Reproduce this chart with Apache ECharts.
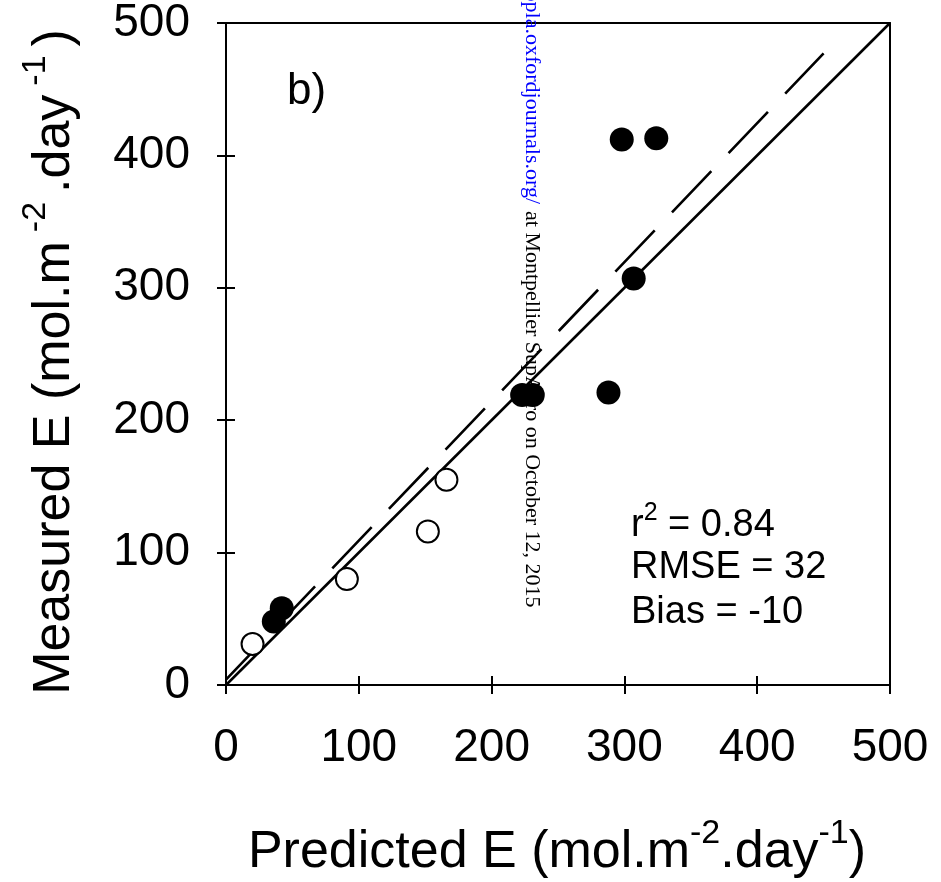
<!DOCTYPE html>
<html>
<head>
<meta charset="utf-8">
<script src="https://cdn.jsdelivr.net/npm/echarts@6/dist/echarts.min.js"></script>
<style>
html,body{margin:0;padding:0;background:#fff;}
#c{width:941px;height:882px;}
</style>
</head>
<body>
<div id="c"></div>
<script>
// ---- data ----
var xTicks = [0, 100, 200, 300, 400, 500];
var yTicks = [0, 100, 200, 300, 400, 500];
var openPts = [[20, 31], [91, 80], [152, 116], [166, 155]];
var filledPts = [[36, 48], [42, 58], [223, 219], [231, 219], [288, 221], [298, 412], [307, 307], [324, 413]];
var oneToOne = [[0, 0], [500, 500]];
var regression = [[0, 4], [450, 477]];
var statsLines = ['r2 = 0.84', 'RMSE = 32', 'Bias = -10'];
var panelLabel = 'b)';

var FONT = "'Liberation Sans', Arial, Helvetica, sans-serif";
var chart = echarts.init(document.getElementById('c'), null, {renderer: 'canvas'});

var gridL = 226, gridR = 51, gridT = 20, gridB = 197;

function baseAxis(extra) {
  var a = {
    type: 'value', min: 0, max: 500, interval: 100,
    splitLine: {show: false},
    axisLine: {show: true, onZero: false, lineStyle: {color: '#000', width: 2}},
    axisTick: {show: true, inside: false, length: 9, lineStyle: {color: '#000', width: 2}},
    axisLabel: {show: true, color: '#000', fontFamily: FONT, fontSize: 46}
  };
  for (var k in extra) a[k] = extra[k];
  return a;
}

var option = {
  animation: false,
  backgroundColor: '#fff',
  grid: {left: gridL, right: gridR, top: gridT, bottom: gridB, containLabel: false},
  xAxis: [
    baseAxis({position: 'bottom', axisLabel: {color: '#000', fontFamily: FONT, fontSize: 46, margin: 40,
      formatter: function (v) { return xTicks.indexOf(v) >= 0 ? String(v) : ''; }}}),
    baseAxis({position: 'bottom', axisLabel: {show: false}, axisLine: {show: false},
      axisTick: {show: true, inside: true, length: 9, lineStyle: {color: '#000', width: 2}}}),
    baseAxis({position: 'top', axisLabel: {show: false}, axisTick: {show: false}})
  ],
  yAxis: [
    baseAxis({position: 'left', axisLabel: {color: '#000', fontFamily: FONT, fontSize: 46, margin: 36,
      formatter: function (v) { return yTicks.indexOf(v) >= 0 ? String(v) : ''; }}}),
    baseAxis({position: 'left', axisLabel: {show: false}, axisLine: {show: false},
      axisTick: {show: true, inside: true, length: 9, lineStyle: {color: '#000', width: 2}}}),
    baseAxis({position: 'right', axisLabel: {show: false}, axisTick: {show: false}})
  ],
  series: [
    {type: 'line', data: oneToOne, symbol: 'none', silent: true, z: 2,
      lineStyle: {color: '#000', width: 2.6}},
    {type: 'line', data: regression, symbol: 'none', silent: true, z: 2,
      lineStyle: {color: '#000', width: 2.6, type: [57, 25], dashOffset: 10}},
    {type: 'scatter', data: openPts, symbol: 'circle', symbolSize: 22, z: 3,
      itemStyle: {color: '#fff', borderColor: '#000', borderWidth: 2, opacity: 1}},
    {type: 'scatter', data: filledPts, symbol: 'circle', symbolSize: 24, z: 4,
      itemStyle: {color: '#000', opacity: 1}}
  ],
  graphic: [
    // panel label
    {type: 'text', x: 287, y: 92, z: 10,
      style: {text: panelLabel, fontFamily: FONT, fontSize: 44, fill: '#000', textAlign: 'left', textVerticalAlign: 'middle'}},
    // stats
    {type: 'text', x: 631, y: 523, z: 10,
      style: {text: '{n|r}{s|2}{n| = 0.84}', textAlign: 'left', textVerticalAlign: 'middle',
        rich: {n: {fontFamily: FONT, fontSize: 38, fill: '#000', lineHeight: 44, verticalAlign: 'bottom'},
               s: {fontFamily: FONT, fontSize: 25, fill: '#000', lineHeight: 44, verticalAlign: 'top', padding: [0, 0, 0, 0]}}}},
    {type: 'text', x: 631, y: 568, z: 10,
      style: {text: statsLines[1], fontFamily: FONT, fontSize: 38, fill: '#000', textAlign: 'left', textVerticalAlign: 'middle'}},
    {type: 'text', x: 631, y: 613, z: 10,
      style: {text: statsLines[2], fontFamily: FONT, fontSize: 38, fill: '#000', textAlign: 'left', textVerticalAlign: 'middle'}},
    // x axis title
    {type: 'text', x: 557, y: 848, z: 10,
      style: {text: '{n|Predicted E (mol.m}{s|-2}{n|.day}{s|-1}{n|)}', textAlign: 'center', textVerticalAlign: 'middle',
        rich: {n: {fontFamily: FONT, fontSize: 52, fill: '#000', lineHeight: 62, verticalAlign: 'bottom'},
               s: {fontFamily: FONT, fontSize: 34, fill: '#000', lineHeight: 40, verticalAlign: 'top'}}}},
    // y axis title
    {type: 'text', x: 50, y: 362, rotation: Math.PI / 2, z: 10,
      style: {text: '{n|Measured E (mol.m}{s|-2}{n|.day}{s|-1}{n|)}', textAlign: 'center', textVerticalAlign: 'middle',
        rich: {n: {fontFamily: FONT, fontSize: 52, fill: '#000', lineHeight: 62, verticalAlign: 'bottom'},
               s: {fontFamily: FONT, fontSize: 34, fill: '#000', lineHeight: 40, verticalAlign: 'top', padding: [0, 9, 0, 9]}}}},
    // watermark (rotated clockwise)
    {type: 'text', x: 532, y: 204, rotation: -Math.PI / 2, z: 1,
      style: {text: 'Downloaded from http://aobpla.oxfordjournals.org/', fontFamily: "'Liberation Serif', 'Times New Roman', serif",
        fontSize: 22, fill: '#0000ff', textAlign: 'right', textVerticalAlign: 'middle'}},
    {type: 'text', x: 532, y: 211, rotation: -Math.PI / 2, z: 1,
      style: {text: 'at Montpellier SupAgro on October 12, 2015', fontFamily: "'Liberation Serif', 'Times New Roman', serif",
        fontSize: 22, fill: '#000', textAlign: 'left', textVerticalAlign: 'middle'}}
  ]
};
chart.setOption(option);
</script>
</body>
</html>
